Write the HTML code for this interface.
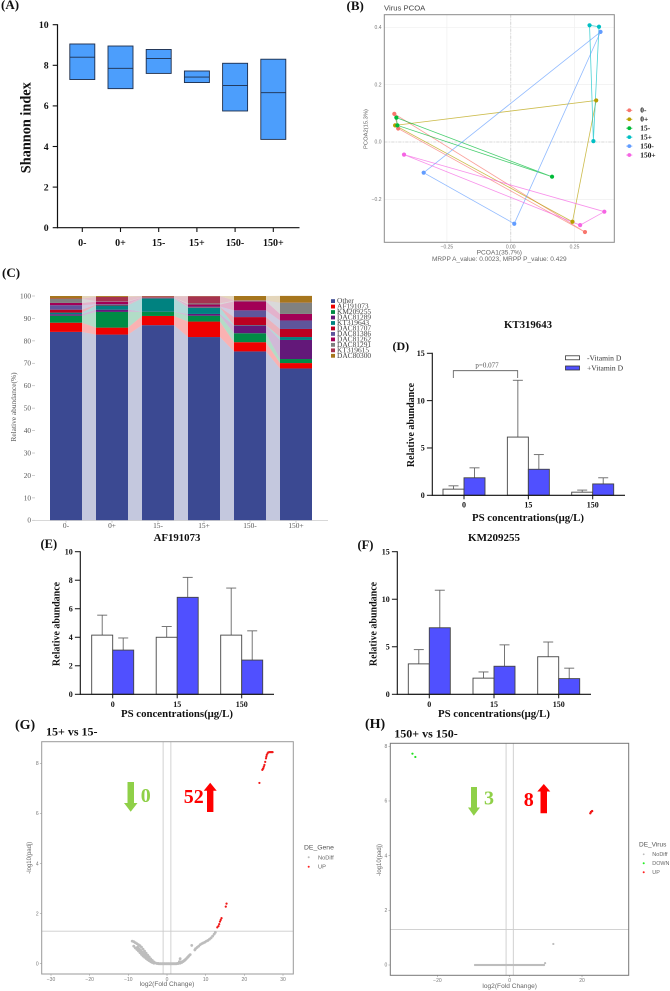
<!DOCTYPE html>
<html lang="en">
<head>
<meta charset="utf-8">
<title>Virus abundance figure</title>
<style>
html,body{margin:0;padding:0;background:#fff;width:670px;height:991px;overflow:hidden}
#figure{display:block;filter:blur(.35px)}
text{font-family:"Liberation Serif",serif}
.b{font-weight:bold;fill:#111}
.s{font-family:"Liberation Sans",sans-serif}
.tick-gg{font-family:"Liberation Sans",sans-serif;font-size:5px;fill:#777}
.lab-gg{font-family:"Liberation Sans",sans-serif;font-size:6.6px;fill:#666}
.panel{font-weight:bold;font-size:13px;fill:#111}
</style>
</head>
<body>
<svg id="figure" xmlns="http://www.w3.org/2000/svg" width="670" height="991" viewBox="0 0 670 991">
  <rect x="0" y="0" width="670" height="991" fill="#fff"/>

  <!-- Panel A -->
  <g id="panelA">
    <text class="panel" x="1" y="9">(A)</text>
    <text class="b" font-size="14.3" text-anchor="middle" transform="translate(30.5 127.7) rotate(-90)">Shannon index</text>
  </g>

  <!-- Panel B -->
  <g id="panelB">
    <text class="panel" x="346.5" y="10">(B)</text>
    <text class="s" font-size="7.7" fill="#444" x="384" y="10.7">Virus PCOA</text>
    <text class="lab-gg" text-anchor="middle" x="499.3" y="254.3">PCOA1(35.7%)</text>
    <text class="lab-gg" style="font-size:6.5px" text-anchor="middle" x="499.3" y="261">MRPP A_value: 0.0023, MRPP P_value: 0.429</text>
    <text class="lab-gg" style="font-size:5.8px" text-anchor="middle" transform="translate(367.5 129) rotate(-90)">PCOA2(15.3%)</text>
  </g>

  <!-- Panel C -->
  <g id="panelC">
    <text class="panel" x="2" y="277">(C)</text>
    <text font-size="7.4" fill="#555" text-anchor="middle" transform="translate(16 407) rotate(-90)">Relative abundance(%)</text>
  </g>

  <!-- Panel D -->
  <g id="panelD">
    <text class="b" font-size="10.8" text-anchor="middle" x="528" y="328">KT319643</text>
    <text class="panel" style="font-size:12px" x="392.5" y="350">(D)</text>
    <text class="b" font-size="10" text-anchor="middle" transform="translate(414 425) rotate(-90)">Relative abundance</text>
    <text class="b" font-size="10.8" text-anchor="middle" x="528" y="521">PS concentrations(μg/L)</text>
    <rect x="565.5" y="355.8" width="14" height="4" fill="#fff" stroke="#333" stroke-width=".8"/>
    <rect x="565.5" y="366" width="14" height="4" fill="#5050ff" stroke="#333" stroke-width=".8"/>
    <text font-size="7.6" fill="#333" x="587" y="360.3">-Vitamin D</text>
    <text font-size="7.6" fill="#333" x="587" y="370.5">+Vitamin D</text>
    <path d="M453.3 378V370.7H517.7V378" fill="none" stroke="#555" stroke-width=".8"/>
    <text font-size="7" fill="#555" text-anchor="middle" x="487" y="367.5">p=0.077</text>
  </g>

  <!-- Panel E -->
  <g id="panelE">
    <text class="b" font-size="10.8" text-anchor="middle" x="177" y="541">AF191073</text>
    <text class="panel" style="font-size:12.5px" x="40.5" y="548">(E)</text>
    <text class="b" font-size="10" text-anchor="middle" transform="translate(59.5 624) rotate(-90)">Relative abundance</text>
    <text class="b" font-size="10.8" text-anchor="middle" x="177" y="717">PS concentrations(μg/L)</text>
  </g>

  <!-- Panel F -->
  <g id="panelF">
    <text class="b" font-size="11" text-anchor="middle" x="494" y="541">KM209255</text>
    <text class="panel" style="font-size:12.5px" x="357.5" y="549">(F)</text>
    <text class="b" font-size="10" text-anchor="middle" transform="translate(376.5 624) rotate(-90)">Relative abundance</text>
    <text class="b" font-size="10.8" text-anchor="middle" x="494" y="717">PS concentrations(μg/L)</text>
  </g>

  <!-- Panel G -->
  <g id="panelG">
    <text class="panel" style="font-size:14px" x="15" y="729">(G)</text>
    <text class="b" font-size="12" x="46" y="735.7">15+ vs 15-</text>
    <text class="lab-gg" text-anchor="middle" x="167" y="986">log2(Fold Change)</text>
    <text class="lab-gg" style="font-size:6px" text-anchor="middle" transform="translate(31 857.7) rotate(-90)">-log10(padj)</text>
    <text class="s" font-size="6.8" fill="#555" x="304" y="849.7">DE_Gene</text>
    <text class="s" font-size="5.7" fill="#666" x="318" y="859.3">NoDiff</text>
    <text class="s" font-size="5.7" fill="#666" x="318" y="868.7">UP</text>
    <circle cx="308.7" cy="857.3" r="1" fill="#bbb"/>
    <circle cx="308.7" cy="866.7" r="1" fill="#f22"/>
  </g>

  <!-- Panel H -->
  <g id="panelH">
    <text class="panel" style="font-size:14px" x="365" y="728">(H)</text>
    <text class="b" font-size="12" x="394.3" y="737.3">150+ vs 150-</text>
    <text class="lab-gg" text-anchor="middle" x="509.7" y="988">log2(Fold Change)</text>
    <text class="lab-gg" style="font-size:6px" text-anchor="middle" transform="translate(381 860) rotate(-90)">-log10(padj)</text>
    <text class="s" font-size="6.5" fill="#555" x="639" y="846.3">DE_Virus</text>
    <text class="s" font-size="5.5" fill="#666" x="652.3" y="856.2">NoDiff</text>
    <text class="s" font-size="5.4" fill="#666" x="652.3" y="865.2">DOWN</text>
    <text class="s" font-size="5.4" fill="#666" x="652.3" y="874.2">UP</text>
    <circle cx="643.7" cy="854.3" r=".9" fill="#bbb"/>
    <circle cx="643.7" cy="863.3" r="1" fill="#2e2"/>
    <circle cx="643.7" cy="872.3" r="1" fill="#f22"/>
  </g>

  <!-- Annotations on top of volcano plots (appended after marks by script order) -->
  <g id="annotations">
    <polygon fill="#8fd048" points="127.5,782 134,782 134,803 137.5,803 130.7,811.7 124,803 127.5,803"/>
    <text class="b" font-size="20" style="fill:#8fd048" text-anchor="middle" x="145.7" y="802">0</text>
    <text class="b" font-size="20" style="fill:#f00" text-anchor="middle" x="193.7" y="803">52</text>
    <polygon fill="#f00" points="210.2,782.7 216.7,790.7 213.4,790.7 213.4,812 207,812 207,790.7 203.7,790.7"/>
    <polygon fill="#8fd048" points="471,787 477,787 477,807.5 480,807.5 473.8,815.7 468,807.5 471,807.5"/>
    <text class="b" font-size="20" style="fill:#8fd048" text-anchor="middle" x="489" y="804.3">3</text>
    <text class="b" font-size="20" style="fill:#f00" text-anchor="middle" x="528.7" y="806">8</text>
    <polygon fill="#f00" points="543.8,784 550.3,791.5 547,791.5 547,813.3 540.5,813.3 540.5,791.5 537.3,791.5"/>
  </g>
</svg>

<script>
/* ---------- Panel A data ---------- */
const shannonGroups = ['0-','0+','15-','15+','150-','150+'];
const shannonLow    = [7.3,6.85,7.6,7.15,5.75,4.35];
const shannonMedian = [8.4,7.85,8.33,7.42,7.0,6.65];
const shannonHigh   = [9.05,8.95,8.78,7.72,8.1,8.3];
const shannonTicks  = [0,2,4,6,8,10];

/* ---------- Panel B data ---------- */
const pcoaGroups = ['0-','0+','15-','15+','150-','150+'];
const pcoaX0m  = [-0.456,-0.441,0.291];
const pcoaY0m  = [0.098,0.047,-0.314];
const pcoaX0p  = [-0.453,0.335,0.242];
const pcoaY0p  = [0.058,0.145,-0.278];
const pcoaX15m = [-0.448,-0.444,0.162];
const pcoaY15m = [0.085,0.058,-0.121];
const pcoaX15p = [0.309,0.346,0.324];
const pcoaY15p = [0.407,0.402,0.003];
const pcoaX150m = [0.352,-0.341,0.014];
const pcoaY150m = [0.384,-0.107,-0.285];
const pcoaX150p = [-0.418,0.367,0.272];
const pcoaY150p = [-0.044,-0.243,-0.29];
const pcoaXTicks = [-0.25,0,0.25];
const pcoaXTickLabels = ['−0.25','0.00','0.25'];
const pcoaYTicks = [-0.2,0,0.2,0.4];
const pcoaYTickLabels = ['−0.2','0.0','0.2','0.4'];

/* ---------- Panel C data (percent per species, bottom to top) ---------- */
const stackGroups  = ['0-','0+','15-','15+','150-','150+'];
const stackSpecies = ['Other','AF191073','KM209255','DAC81289','KT319643','DAC81707','DAC81386','DAC81262','DAC81291','KT319615','DAC80300'];
const stack0m   = [84,4.1,3.1,0.7,0.7,1.3,2,1,1.8,0.2,1.1];
const stack0p   = [82.8,3.1,7,1,1.9,0.3,0.3,1.1,0.2,1.9,0.4];
const stack15m  = [87,4.1,1.9,0.05,5.9,0.1,0.1,0.1,0.1,0.5,0.15];
const stack15p  = [81.7,6.9,2.6,0.8,2.8,0.2,0.3,0.9,0.5,3.2,0.1];
const stack150m = [75.3,4.1,4,3.4,0.2,3.6,3,4,0.3,0.2,1.9];
const stack150p = [67.7,2.4,1.8,8.5,1.3,3.6,3.8,2.9,5,0.05,3];
const stackTicks = [0,10,20,30,40,50,60,70,80,90,100];

/* ---------- Panels D / E / F data ---------- */
const concLabels = ['0','15','150'];
const ktMinus     = [0.65,6.15,0.33];
const ktMinusTop  = [1.0,12.15,0.55];
const ktPlus      = [1.85,2.75,1.2];
const ktPlusTop   = [2.9,4.3,1.85];
const ktTicks     = [0,5,10,15];
const afMinus     = [4.15,4.0,4.15];
const afMinusTop  = [5.55,4.75,7.45];
const afPlus      = [3.1,6.8,2.4];
const afPlusTop   = [3.95,8.2,4.45];
const afTicks     = [0,2,4,6,8,10];
const kmMinus     = [3.2,1.7,3.95];
const kmMinusTop  = [4.7,2.35,5.5];
const kmPlus      = [7.0,2.95,1.65];
const kmPlusTop   = [10.95,5.2,2.75];
const kmTicks     = [0,5,10,15];

/* ---------- Panel G data ---------- */
const g15NoDiffX = [-9,-8.6,-8.2,-7.8,-7.4,-7,-6.6,-6.2,-5.8,-5.4,-5,-4.6,-4.2,-3.8,-3.4,-3,
  -8.6,-8.2,-7.8,-7.4,-7,-6.6,-6.2,-5.8,-5.4,-5,-4.6,-4.2,-3.8,-3.4,
  -7.6,-7.2,-6.8,-6.4,-6,-5.6,-5.2,-4.8,-4.4,-4,
  -2.6,-2.3,-2.1,-1.8,-1.6,-1.3,-1.1,-0.8,-0.6,-0.3,-0.1,0.2,0.4,0.7,0.9,1.2,1.4,1.7,1.9,2.2,2.4,2.7,2.9,3.1,3.4,
  3.2,3.4,3.6,3.8,4,4.2,4.4,4.6,4.8,5,5.3,5.5,5.7,6,6.4,7.2,7.4,7.8,8.2,8.6,9,9.4,9.8,10.2,10.6,11,11.4,11.8,12.2,12.5];
const g15NoDiffY = [0.9,0.88,0.84,0.8,0.76,0.72,0.66,0.58,0.5,0.42,0.34,0.27,0.19,0.13,0.07,0.03,
  0.7,0.63,0.57,0.51,0.44,0.37,0.31,0.26,0.21,0.16,0.12,0.08,0.05,0.02,
  0.66,0.6,0.53,0.46,0.4,0.33,0.27,0.22,0.16,0.1,
  0.01,0.01,0,0,0,0,0,0,0,0,0,0,0,0,0,0,0,0,0,0,0,0.01,0.01,0.02,0.02,
  0.08,0.2,0.07,0.05,0.08,0.09,0.12,0.14,0.17,0.2,0.25,0.28,0.32,0.36,0.73,0.55,0.6,0.65,0.7,0.76,0.8,0.83,0.86,0.9,0.93,0.98,1.03,1.1,1.18,1.25];
const g15UpX = [23.9,24.65,24.8,24.9,25.05,25.2,25.4,25.6,25.7,25.8,26,26.2,26.5,26.8,27.05,27.3,15.4,15.2,14.1,13.9,13.7,13.5,13.3,13];
const g15UpY = [7.22,7.74,7.78,7.8,7.87,7.94,8.06,8.2,8.27,8.34,8.4,8.44,8.45,8.45,8.45,8.45,2.4,2.28,1.82,1.75,1.68,1.58,1.5,1.45];
const g15XTicks = [-30,-20,-10,0,10,20,30];
const g15YTicks = [0,2,4,6,8];

/* ---------- Panel H data ---------- */
const h150NoDiffX = [-9.6,-9.3,-9,-8.7,-8.4,-8.1,-7.8,-7.5,-7.2,-6.9,-6.6,-6.3,-6,-5.7,-5.4,-5.1,-4.8,-4.5,-4.2,-3.9,-3.6,-3.3,-3,-2.7,-2.4,-2.1,-1.8,-1.5,-1.2,-0.9,-0.6,-0.3,0,0.3,0.6,0.9,1.2,1.5,1.8,2.1,2.4,2.7,3,3.3,3.6,3.9,4.2,4.5,4.8,5.1,5.4,5.7,6,6.3,6.6,6.9,7.2,7.5,7.8,8.1,8.4,8.7,9,9.3,9.5,9.8,12.07];
const h150NoDiffY = [0,0,0,0,0,0,0,0,0,0,0,0,0,0,0,0,0,0,0,0,0,0,0,0,0,0,0,0,0,0,0,0,0,0,0,0,0,0,0,0,0,0,0,0,0,0,0,0,0,0,0,0,0,0,0,0,0,0,0,0,0,0,0,0,0,0.07,0.77];
const h150DownX = [-26.9,-26.1];
const h150DownY = [7.73,7.61];
const h150UpX = [22.3,22.5,22.8];
const h150UpY = [5.55,5.6,5.63];
const h150XTicks = [-20,0,20];
const h150YTicks = [0,2,4,6,8];

/* ---------- Helpers ---------- */
const NS = 'http://www.w3.org/2000/svg';
function mk(tag, attrs, parent, text) {
  const e = document.createElementNS(NS, tag);
  for (const k in attrs) e.setAttribute(k, attrs[k]);
  if (text !== undefined) e.textContent = text;
  parent.appendChild(e);
  return e;
}
function linear(d0, d1, r0, r1) {
  return v => r0 + (v - d0) * (r1 - r0) / (d1 - d0);
}
const panel = id => document.getElementById(id);
const figure = document.getElementById('figure');
const annotations = document.getElementById('annotations');

/* ---------- Panel A ---------- */
(function () {
  const g = panel('panelA');
  const y = linear(0, 10, 227.7, 24.7);
  const x = i => 82.3 + i * 38.2;
  const boxW = 25;
  shannonGroups.forEach((name, i) => {
    const box = mk('rect', {x: x(i) - boxW / 2, y: y(shannonHigh[i]), width: boxW, height: y(shannonLow[i]) - y(shannonHigh[i]), fill: '#4c9efc', stroke: '#1d2d4a', 'stroke-width': 0.9}, g);
    
    
    const med = mk('line', {x1: x(i) - boxW / 2, x2: x(i) + boxW / 2, y1: y(shannonMedian[i]), y2: y(shannonMedian[i]), stroke: '#1d2d4a', 'stroke-width': 0.9}, g);
    
    
    const tick = mk('line', {x1: x(i), x2: x(i), y1: 227.7, y2: 232, stroke: '#111', 'stroke-width': 1.1}, g);
    
    
    const lab = mk('text', {x: x(i), y: 246, 'text-anchor': 'middle', 'font-size': 10, class: 'b'}, g, name);
    
    
  });
  shannonTicks.forEach(t => {
    const tick = mk('line', {x1: 52.7, x2: 57.5, y1: y(t), y2: y(t), stroke: '#111', 'stroke-width': 1.1}, g);
    
    
    const lab = mk('text', {x: 48.7, y: y(t) + 3.3, 'text-anchor': 'end', 'font-size': 9.8, class: 'b'}, g, String(t));
    
    
  });
  const axisY = mk('line', {x1: 57.5, x2: 57.5, y1: 24.2, y2: 228.3, stroke: '#111', 'stroke-width': 1.2}, g);
  
  
  const axisX = mk('line', {x1: 57, x2: 299.5, y1: 227.7, y2: 227.7, stroke: '#111', 'stroke-width': 1.2}, g);
  
  
})();

/* ---------- Panel B ---------- */
(function () {
  const g = panel('panelB');
  const x = linear(0, 0.25, 510.7, 574.5);
  const y = linear(0, 0.4, 142, 27.3);
  const colors = ['#F8766D','#B79F00','#00BA38','#00BFC4','#619CFF','#F564E3'];
  const xs = [pcoaX0m,pcoaX0p,pcoaX15m,pcoaX15p,pcoaX150m,pcoaX150p];
  const ys = [pcoaY0m,pcoaY0p,pcoaY15m,pcoaY15p,pcoaY150m,pcoaY150p];
  const L = 384.3, R = 614.3, T = 14.7, B = 242.3;
  pcoaXTicks.forEach((t, i) => {
    const gl = mk('line', {x1: x(t), x2: x(t), y1: T, y2: B, stroke: '#efefef', 'stroke-width': 0.7}, g);
    
    
    const lab = mk('text', {x: x(t), y: 248.6, 'text-anchor': 'middle', class: 'tick-gg'}, g, pcoaXTickLabels[i]);
    
    
  });
  pcoaYTicks.forEach((t, i) => {
    const gl = mk('line', {x1: L, x2: R, y1: y(t), y2: y(t), stroke: '#efefef', 'stroke-width': 0.7}, g);
    
    
    const lab = mk('text', {x: 381.5, y: y(t) + 1.7, 'text-anchor': 'end', class: 'tick-gg'}, g, pcoaYTickLabels[i]);
    
    
  });
  const z1 = mk('line', {x1: x(0), x2: x(0), y1: T, y2: B, stroke: '#d8d8d8', 'stroke-width': 1, 'stroke-dasharray': '3 1.5 1 1.5'}, g);
  
  
  const z2 = mk('line', {x1: L, x2: R, y1: y(0), y2: y(0), stroke: '#d8d8d8', 'stroke-width': 1, 'stroke-dasharray': '3 1.5 1 1.5'}, g);
  
  
  pcoaGroups.forEach((name, k) => {
    const pts = xs[k].map((v, i) => x(v) + ',' + y(ys[k][i])).join(' ');
    const poly = mk('polygon', {points: pts, fill: 'none', stroke: colors[k], 'stroke-width': 0.8, 'stroke-opacity': 0.7}, g);
    
    
  });
  pcoaGroups.forEach((name, k) => {
    xs[k].forEach((v, i) => {
      const c = mk('circle', {cx: x(v), cy: y(ys[k][i]), r: 2.1, fill: colors[k]}, g);
      
      
    });
    const ly = 110.3 + k * 8.95;
    const ll = mk('line', {x1: 626.3, x2: 632.3, y1: ly, y2: ly, stroke: colors[k], 'stroke-width': 0.8}, g);
    
    
    const ld = mk('circle', {cx: 629.3, cy: ly, r: 1.9, fill: colors[k]}, g);
    
    
    const lt = mk('text', {x: 640.3, y: ly + 2.4, 'font-size': 7.4, class: 'b'}, g, name);
    
    
  });
  const frame = mk('rect', {x: L, y: T, width: R - L, height: B - T, fill: 'none', stroke: '#8a8a8a', 'stroke-width': 1}, g);
  
  
})();

/* ---------- Panel C ---------- */
(function () {
  const g = panel('panelC');
  const y = linear(0, 100, 520.3, 296);
  const x = i => 50 + i * 46;
  const barW = 32;
  const colors = ['#3B4992','#EE0000','#008B45','#631879','#008280','#BB0021','#5F559B','#A20056','#808180','#A6334F','#A6761D'];
  const rows = [stack0m,stack0p,stack15m,stack15p,stack150m,stack150p];
  const cum = rows.map(r => { let s = 0; return r.map(v => { const a = s; s += v; return [a, s]; }); });
  stackSpecies.forEach((sp, k) => {
    for (let i = 0; i < rows.length - 1; i++) {
      const p = [[x(i) + barW, y(cum[i][k][1])], [x(i + 1), y(cum[i + 1][k][1])], [x(i + 1), y(cum[i + 1][k][0])], [x(i) + barW, y(cum[i][k][0])]];
      const band = mk('polygon', {points: p.map(q => q.join(',')).join(' '), fill: colors[k], 'fill-opacity': 0.3}, g);
      
      
    }
    rows.forEach((r, i) => {
      const bar = mk('rect', {x: x(i), y: y(cum[i][k][1]), width: barW, height: y(cum[i][k][0]) - y(cum[i][k][1]), fill: colors[k]}, g);
      
      
    });
    const ly = 301 + k * 5.47;
    const sw = mk('rect', {x: 331, y: ly - 1.8, width: 4, height: 3.8, fill: colors[k]}, g);
    
    
    const lt = mk('text', {x: 337, y: ly + 2.2, 'font-size': 7.4, fill: '#444'}, g, sp);
    
    
  });
  stackTicks.forEach(t => {
    const tick = mk('line', {x1: 32, x2: 35, y1: y(t), y2: y(t), stroke: '#bbb', 'stroke-width': 0.7}, g);
    
    
    const lab = mk('text', {x: 31, y: y(t) + 2.4, 'text-anchor': 'end', 'font-size': 7.3, fill: '#555'}, g, String(t));
    
    
  });
  const axis = mk('line', {x1: 35, x2: 328, y1: 520.6, y2: 520.6, stroke: '#ccc', 'stroke-width': 0.8}, g);
  
  
  stackGroups.forEach((name, i) => {
    const tick = mk('line', {x1: x(i) + barW / 2, x2: x(i) + barW / 2, y1: 520.6, y2: 522.6, stroke: '#bbb', 'stroke-width': 0.7}, g);
    
    
    const lab = mk('text', {x: x(i) + barW / 2, y: 527.8, 'text-anchor': 'middle', 'font-size': 7.4, fill: '#555'}, g, name);
    
    
  });
})();

/* ---------- Panels D / E / F ---------- */
function drawBars(g, prefix, o) {
  const y = linear(0, o.max, o.y0, o.yTop);
  const x = i => o.cx0 + i * o.step;
  const w = 21;
  const series = [[o.minus, o.minusTop, -w, '#fff', 'minus'], [o.plus, o.plusTop, 0, '#5050ff', 'plus']];
  concLabels.forEach((name, i) => {
    series.forEach(s => {
      const cx = x(i) + s[2] + w / 2;
      const stem = mk('line', {x1: cx, x2: cx, y1: y(s[1][i]), y2: y(s[0][i]), stroke: '#666', 'stroke-width': 0.9}, g);
      
      
      const cap = mk('line', {x1: cx - 5, x2: cx + 5, y1: y(s[1][i]), y2: y(s[1][i]), stroke: '#666', 'stroke-width': 0.9}, g);
      
      
      const bar = mk('rect', {x: x(i) + s[2], y: y(s[0][i]), width: w, height: o.y0 - y(s[0][i]), fill: s[3], stroke: '#444', 'stroke-width': 0.9}, g);
      
      
    });
    const tick = mk('line', {x1: x(i), x2: x(i), y1: o.y0, y2: o.y0 + 4, stroke: '#111', 'stroke-width': 1}, g);
    
    
    const lab = mk('text', {x: x(i), y: o.labelY, 'text-anchor': 'middle', 'font-size': 8, class: 'b'}, g, name);
    
    
  });
  o.ticks.forEach(t => {
    const tick = mk('line', {x1: o.ax - 5.4, x2: o.ax, y1: y(t), y2: y(t), stroke: '#111', 'stroke-width': 1}, g);
    
    
    const lab = mk('text', {x: o.ax - 7.5, y: y(t) + 2.7, 'text-anchor': 'end', 'font-size': 8, class: 'b'}, g, String(t));
    
    
  });
  const ay = mk('line', {x1: o.ax, x2: o.ax, y1: o.yTop - 0.5, y2: o.y0 + 0.5, stroke: '#111', 'stroke-width': 1.1}, g);
  
  
  const ax = mk('line', {x1: o.ax - 0.5, x2: o.axEnd, y1: o.y0, y2: o.y0, stroke: '#111', 'stroke-width': 1.1}, g);
  
  
}
drawBars(panel('panelD'), 'kt319643', {max: 15, y0: 495.3, yTop: 353.3, cx0: 464, step: 64.35, ax: 432.3, axEnd: 625, labelY: 507.7, ticks: ktTicks, minus: ktMinus, minusTop: ktMinusTop, plus: ktPlus, plusTop: ktPlusTop});
drawBars(panel('panelE'), 'af191073', {max: 10, y0: 694.3, yTop: 551.7, cx0: 112.7, step: 64.5, ax: 80.3, axEnd: 274, labelY: 707, ticks: afTicks, minus: afMinus, minusTop: afMinusTop, plus: afPlus, plusTop: afPlusTop});
drawBars(panel('panelF'), 'km209255', {max: 15, y0: 694.3, yTop: 551.7, cx0: 429.3, step: 64.7, ax: 397.3, axEnd: 591, labelY: 707, ticks: kmTicks, minus: kmMinus, minusTop: kmMinusTop, plus: kmPlus, plusTop: kmPlusTop});

/* ---------- Panels G / H ---------- */
function drawVolcano(g, prefix, o) {
  const x = o.x, y = o.y;
  const hl = mk('line', {x1: o.L, x2: o.R, y1: y(1.3), y2: y(1.3), stroke: '#ccc', 'stroke-width': 0.9}, g);
  
  
  [-1, 1].forEach(v => {
    const vl = mk('line', {x1: x(v), x2: x(v), y1: o.T, y2: o.B, stroke: '#ccc', 'stroke-width': 0.9}, g);
    
    
  });
  o.series.forEach(s => {
    s.xs.forEach((v, i) => {
      const c = mk('circle', {cx: x(v), cy: y(s.ys[i]), r: s.r, fill: s.color}, g);
      
      
    });
  });
  o.xTicks.forEach(t => {
    const tick = mk('line', {x1: x(t), x2: x(t), y1: o.B, y2: o.B + 1.8, stroke: '#888', 'stroke-width': 0.5}, g);
    
    
    const lab = mk('text', {x: x(t), y: o.B + 6.8, 'text-anchor': 'middle', class: 'tick-gg'}, g, String(t).replace('-', '−'));
    
    
  });
  o.yTicks.forEach(t => {
    const tick = mk('line', {x1: o.L - 1.8, x2: o.L, y1: y(t), y2: y(t), stroke: '#888', 'stroke-width': 0.5}, g);
    
    
    const lab = mk('text', {x: o.L - 3, y: y(t) + 1.7, 'text-anchor': 'end', class: 'tick-gg'}, g, String(t));
    
    
  });
  const frame = mk('rect', {x: o.L, y: o.T, width: o.R - o.L, height: o.B - o.T, fill: 'none', stroke: o.frame, 'stroke-width': 1}, g);
  
  
}
drawVolcano(panel('panelG'), 'volcano-15', {
  x: linear(0, 30, 167, 283), y: linear(0, 8, 963.7, 763.4),
  L: 41.7, R: 293.3, T: 741.7, B: 974, frame: '#9a9a9a',
  xTicks: g15XTicks, yTicks: g15YTicks,
  series: [
    {name: 'nodiff', xs: g15NoDiffX, ys: g15NoDiffY, r: 1.4, color: '#bdbdbd'},
    {name: 'up', xs: g15UpX, ys: g15UpY, r: 1.1, color: '#f01818'}
  ]
});
drawVolcano(panel('panelH'), 'volcano-150', {
  x: linear(0, 20, 509.7, 582), y: linear(0, 8, 965, 746.3),
  L: 390.3, R: 628.7, T: 743.3, B: 975.3, frame: '#777',
  xTicks: h150XTicks, yTicks: h150YTicks,
  series: [
    {name: 'nodiff', xs: h150NoDiffX, ys: h150NoDiffY, r: 1.1, color: '#bdbdbd'},
    {name: 'down', xs: h150DownX, ys: h150DownY, r: 1.1, color: '#22e022'},
    {name: 'up', xs: h150UpX, ys: h150UpY, r: 1.2, color: '#f01818'}
  ]
});
figure.appendChild(annotations);
</script>
</body>
</html>
